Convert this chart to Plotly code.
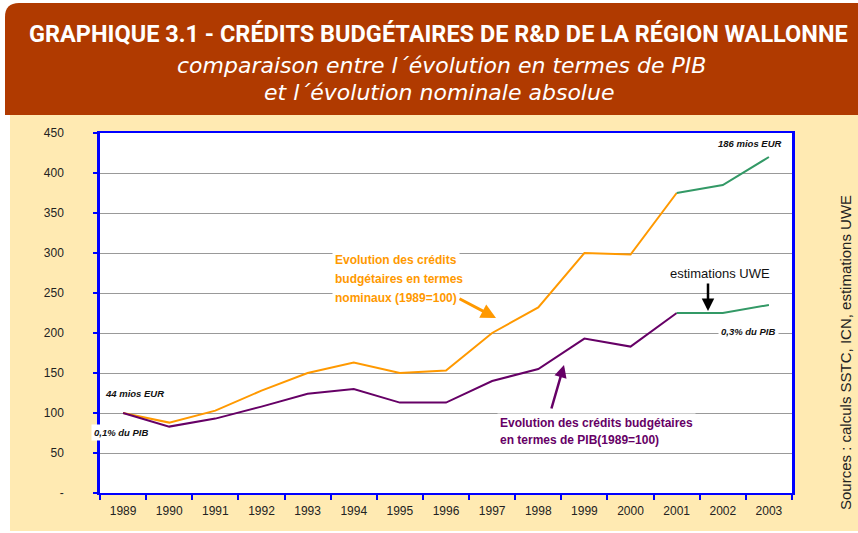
import plotly.graph_objects as go

years = [str(y) for y in range(1989, 2004)]
# evolution nominale (1989=100)
nominal = [100, 88, 103, 128, 150, 163, 150, 153, 200, 232, 300, 298, 375, None, None]
# evolution en termes de PIB (1989=100)
pib = [100, 83, 93, 108, 124, 130, 113, 113, 140, 155, 193, 183, 225, None, None]
# estimations UWE
est_nominal = [None] * 12 + [375, 385, 420]
est_pib = [None] * 12 + [225, 225, 235]

y_ticks = [0, 50, 100, 150, 200, 250, 300, 350, 400, 450]
y_ticktext = ['-'] + [str(v) for v in y_ticks[1:]]

ORANGE = '#FF9900'
PURPLE = '#660066'
GREEN = '#339966'
BLUE = '#0000FF'
BROWN = '#B03A00'
BEIGE = '#FFEAB2'

W, H = 858, 533
L, R, T, B = 100, 66, 133, 40
pw, ph = W - L - R, H - T - B


def px(x):
    return (x - L) / pw


def py(y):
    return (H - B - y) / ph


fig = go.Figure()
fig.add_trace(go.Scatter(x=years, y=nominal, mode='lines',
                         line=dict(color=ORANGE, width=2)))
fig.add_trace(go.Scatter(x=years, y=pib, mode='lines',
                         line=dict(color=PURPLE, width=2)))
fig.add_trace(go.Scatter(x=years, y=est_nominal, mode='lines',
                         line=dict(color=GREEN, width=2)))
fig.add_trace(go.Scatter(x=years, y=est_pib, mode='lines',
                         line=dict(color=GREEN, width=2)))

# backgrounds
r = 14
x0, x1, y0, y1 = px(5), px(858), py(115), py(3)
title_path = (f'M {x0},{y0} L {x0},{py(3 + r)} Q {x0},{y1} {px(5 + r)},{y1} '
              f'L {x1},{y1} L {x1},{y0} Z')
fig.add_shape(type='path', path=title_path, xref='paper', yref='paper',
              fillcolor=BROWN, line=dict(width=0), layer='below')
fig.add_shape(type='rect', xref='paper', yref='paper',
              x0=px(10), x1=px(858), y0=py(531), y1=py(115),
              fillcolor=BEIGE, line=dict(width=0), layer='below')
fig.add_shape(type='rect', xref='paper', yref='paper',
              x0=0, x1=1, y0=0, y1=1,
              fillcolor='white', line=dict(width=0), layer='below')

ann = []
# title
ann.append(dict(text='<b>GRAPHIQUE 3.1 - CRÉDITS BUDGÉTAIRES DE R&D DE LA RÉGION WALLONNE</b>',
                x=px(438), y=py(34), font=dict(family='Roboto', size=23.5, color='white')))
sub = dict(family='DejaVu Sans', size=22, color='white')
ann.append(dict(text='<i>comparaison entre l´évolution en termes de PIB</i>',
                x=px(441), y=py(65), font=sub))
ann.append(dict(text='<i>et l´évolution nominale absolue</i>',
                x=px(439), y=py(93), font=sub))

small = dict(family='Arial', size=9.5, color='#111')
ann.append(dict(text='<b><i>186 mios EUR</i></b>', x=px(783), y=py(143), xanchor='right', font=small))
ann.append(dict(text='<b><i>44 mios EUR</i></b>', x=px(103), y=py(393), xanchor='left', font=small))
ann.append(dict(text='<b><i>0,1% du PIB</i></b>', x=px(91), y=py(432), xanchor='left', font=small,
                bgcolor='white', borderpad=2))
ann.append(dict(text='<b><i>0,3% du PIB</i></b>', x=px(779), y=py(331), xanchor='right', font=small,
                bgcolor='white', borderpad=2))
ann.append(dict(text='estimations UWE', x=px(720), y=py(273),
                font=dict(family='Arial', size=13, color='#111')))
ann.append(dict(text='', x=px(708), y=py(311), ax=0, ay=-29, showarrow=True,
                arrowhead=2, arrowsize=1, arrowwidth=2.5, arrowcolor='black'))

for i, line in enumerate(['Evolution des crédits', 'budgétaires en termes', 'nominaux (1989=100)']):
    ann.append(dict(text='<b>' + line + '</b>', x=px(332), y=py(260 + 19 * i), xanchor='left',
                    bgcolor='white', borderpad=2,
                    font=dict(family='Arial', size=12, color=ORANGE)))
ann.append(dict(text='', x=px(496), y=py(318), ax=-38, ay=-20, showarrow=True,
                arrowhead=2, arrowsize=1, arrowwidth=3, arrowcolor=ORANGE))

for i, line in enumerate(['Evolution des crédits budgétaires', 'en termes de PIB(1989=100)']):
    ann.append(dict(text='<b>' + line + '</b>', x=px(497), y=py(423 + 17 * i), xanchor='left',
                    bgcolor='white', borderpad=2,
                    font=dict(family='Arial', size=12, color=PURPLE)))
ann.append(dict(text='', x=px(564), y=py(365), ax=-13, ay=45, showarrow=True,
                arrowhead=2, arrowsize=1, arrowwidth=2.5, arrowcolor=PURPLE))

ann.append(dict(text='Sources : calculs SSTC, ICN, estimations UWE', x=px(845), y=py(353),
                textangle=-90, font=dict(family='Arial', size=15, color='#222')))

for a in ann:
    a.setdefault('xref', 'paper')
    a.setdefault('yref', 'paper')
    a.setdefault('showarrow', False)
    a.setdefault('xanchor', 'center')
    a.setdefault('yanchor', 'middle')
fig.update_layout(annotations=ann)

fig.update_layout(
    width=W, height=H, autosize=False,
    margin=dict(l=L, r=R, t=T, b=B),
    paper_bgcolor='white', plot_bgcolor='white',
    showlegend=False,
    xaxis=dict(type='category', range=[-0.5, len(years) - 0.5],
               tickson='boundaries', ticks='outside', ticklen=5,
               tickcolor=BLUE, tickwidth=2, showgrid=False,
               showline=True, linecolor=BLUE, linewidth=2, mirror=True,
               ticklabelstandoff=6,
               tickfont=dict(family='Liberation Sans Narrow, Arial', size=12, color='#222')),
    yaxis=dict(range=[0, 450], tickvals=y_ticks, ticktext=y_ticktext,
               ticks='outside', ticklen=4, tickcolor=BLUE, tickwidth=2,
               showgrid=True, gridcolor='#999999', gridwidth=1, zeroline=False,
               showline=True, linecolor=BLUE, linewidth=2.5, mirror=True,
               ticklabelstandoff=27,
               tickfont=dict(family='Arial', size=12, color='#222')),
)

fig.write_html("out.html", config={'displayModeBar': False},
               post_script="document.body.style.margin='0px';")
